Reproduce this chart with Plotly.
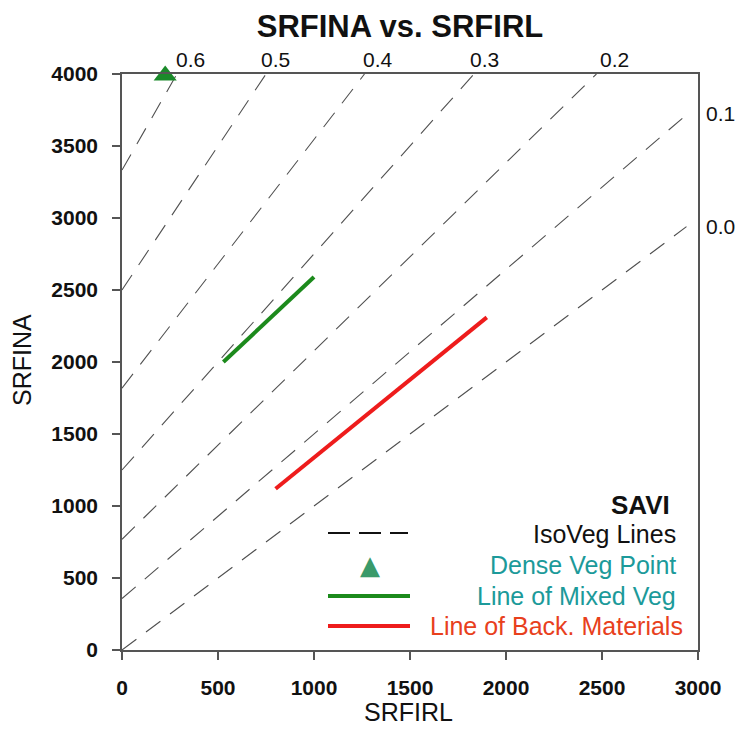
import plotly.graph_objects as go

# ---- data ----
savi_levels = ["0.0", "0.1", "0.2", "0.3", "0.4", "0.5", "0.6"]
iso_x_start = [0, 0, 0, 0, 0, 0, 0]
iso_y_start = [0, 357, 769, 1250, 1818, 2500, 3333]
iso_x_end = [2940, 2940, 2471, 1833, 1263, 750, 286]
iso_y_end = [2940, 3717, 4000, 4000, 4000, 4000, 4000]

label_x = [3116, 3116, 2564, 1888, 1335, 798, 356]
label_y = [2944, 3729, 4104, 4104, 4104, 4104, 4104]

dense_veg_x = [225]
dense_veg_y = [3990]

mixed_veg_x = [528, 1000]
mixed_veg_y = [2000, 2590]

back_mat_x = [800, 1900]
back_mat_y = [1120, 2310]

x_ticks = [0, 500, 1000, 1500, 2000, 2500, 3000]
y_ticks = [0, 500, 1000, 1500, 2000, 2500, 3000, 3500, 4000]

X_RANGE = [0, 3000]
Y_RANGE = [0, 4000]

FONT = "Liberation Sans, Arial, sans-serif"
DASH = "18px,12px"

fig = go.Figure()

for i in range(len(savi_levels)):
    fig.add_trace(go.Scatter(
        x=[iso_x_start[i], iso_x_end[i]], y=[iso_y_start[i], iso_y_end[i]],
        mode="lines", line=dict(color="#505050", width=1.1, dash=DASH),
        showlegend=False, hoverinfo="skip"))
    # labels sit outside the axis range, so place them in paper units
    fig.add_annotation(x=(label_x[i] - X_RANGE[0]) / (X_RANGE[1] - X_RANGE[0]),
                       y=(label_y[i] - Y_RANGE[0]) / (Y_RANGE[1] - Y_RANGE[0]),
                       text=savi_levels[i], xref="paper", yref="paper", showarrow=False,
                       font=dict(family=FONT, size=21, color="#111111"),
                       xanchor="center", yanchor="middle")

fig.add_trace(go.Scatter(x=mixed_veg_x, y=mixed_veg_y, mode="lines",
                         line=dict(color="#1c8a1c", width=4), showlegend=False))
fig.add_trace(go.Scatter(x=back_mat_x, y=back_mat_y, mode="lines",
                         line=dict(color="#ee1c1c", width=4), showlegend=False))
fig.add_trace(go.Scatter(x=dense_veg_x, y=dense_veg_y, mode="markers",
                         marker=dict(symbol="triangle-up", size=20, color="#1a8a2a"),
                         cliponaxis=False, showlegend=False))

# ---- geometry (page body margin removed below, so no offset) ----
OFF = 0
W, H = 737, 744
PW, PH = 576, 576
L, T = 122 - OFF, 74 - OFF
R, B = W - L - PW, H - T - PH


def px(xp):
    return (xp - OFF - L) / PW


def py(yp):
    return (T + PH - (yp - OFF)) / PH


# ---- custom legend ----
leg_rows = [
    ("<b>SAVI</b>", 672, 505, "#111111", 26),
    ("IsoVeg Lines", 678, 534, "#111111", 25),
    ("Dense Veg Point", 678, 565, "#1c9a9a", 25),
    ("Line of Mixed Veg", 678, 596, "#1c9a9a", 25),
    ("Line of Back. Materials", 685, 626, "#e8401c", 25),
]
for text, xr, yc, col, sz in leg_rows:
    fig.add_annotation(x=px(xr), y=py(yc), xref="paper", yref="paper", text=text,
                       showarrow=False, xanchor="right", yanchor="middle",
                       font=dict(family=FONT, size=sz, color=col))

fig.add_shape(type="line", xref="paper", yref="paper", x0=px(328), x1=px(408),
              y0=py(533), y1=py(533), line=dict(color="#111111", width=2, dash="22px,9px"))
fig.add_shape(type="line", xref="paper", yref="paper", x0=px(328), x1=px(410),
              y0=py(596), y1=py(596), line=dict(color="#1c8a1c", width=4))
fig.add_shape(type="line", xref="paper", yref="paper", x0=px(328), x1=px(410),
              y0=py(626), y1=py(626), line=dict(color="#ee1c1c", width=4))
fig.add_annotation(x=px(370), y=py(565), xref="paper", yref="paper", text="▲",
                   showarrow=False, xanchor="center", yanchor="middle",
                   font=dict(family="DejaVu Sans", size=26, color="#3a9a6a"))

# ---- axis titles ----
fig.add_annotation(x=px(22), y=py(360), xref="paper", yref="paper", text="SRFINA",
                   textangle=-90, showarrow=False, xanchor="center", yanchor="middle",
                   font=dict(family=FONT, size=25, color="#111111"))
fig.add_annotation(x=px(408), y=py(712), xref="paper", yref="paper", text="SRFIRL",
                   showarrow=False, xanchor="center", yanchor="middle",
                   font=dict(family=FONT, size=25, color="#111111"))

axis_common = dict(showgrid=False, zeroline=False, showline=True, linecolor="#555555",
                   linewidth=1.5, mirror=True, ticks="outside", ticklen=8,
                   tickcolor="#555555", tickwidth=1.5,
                   tickfont=dict(family=FONT, size=21, color="#111111", weight="bold"))

fig.update_xaxes(range=X_RANGE, tickvals=x_ticks, ticklabelstandoff=10, **axis_common)
fig.update_yaxes(range=Y_RANGE, tickvals=y_ticks, ticklabelstandoff=10, **axis_common)

fig.update_layout(
    width=W, height=H,
    margin=dict(l=L, r=R, t=T, b=B),
    paper_bgcolor="white", plot_bgcolor="white",
    title=dict(text="<b>SRFINA vs. SRFIRL</b>", x=(400 - OFF) / W, xanchor="center",
               y=1 - (26 - OFF) / H, yanchor="middle",
               font=dict(family=FONT, size=31, color="#111111")),
    showlegend=False,
)

fig.write_html("out.html",
               config={"displayModeBar": False},
               post_script="document.body.style.margin='0';document.body.style.overflow='hidden';")
